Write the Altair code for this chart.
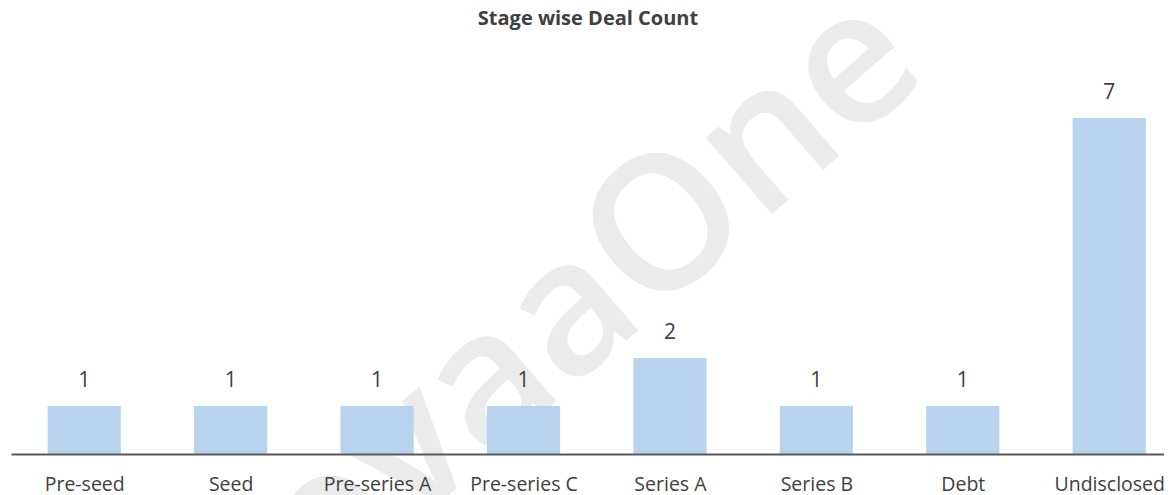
import json
import altair as alt
import pandas as pd

# ---- data ----
stages = ["Pre-seed", "Seed", "Pre-series A", "Pre-series C",
          "Series A", "Series B", "Debt", "Undisclosed"]
counts = [1, 1, 1, 1, 2, 1, 1, 7]
chart_title = ["Stage wise Deal Count"]
watermark = ["ovaaOne"]

df = pd.DataFrame({"stage": stages, "count": counts, "idx": list(range(len(stages)))})

FONT = "Open Sans"
TXT = "#404040"

label_expr = json.dumps(stages) + "[datum.value]"

x_scale = alt.Scale(domain=[-0.5, 7.374], nice=False, zero=False, padding=0)
x_enc = alt.X(
    "x0:Q",
    scale=x_scale,
    axis=alt.Axis(
        title=None, labelAngle=0, ticks=False, tickSize=0,
        values=list(range(len(stages))), labelExpr=label_expr,
        domainColor="#595959", domainWidth=2, zindex=1,
        labelFont=FONT, labelFontSize=19.5, labelColor=TXT,
        labelBaseline="alphabetic", labelPadding=36, labelAlign="center",
        labelOverlap=False, labelFlush=False, grid=False,
    ),
)
y_enc = alt.Y("count:Q", scale=alt.Scale(domain=[0, 9.29], nice=False, zero=True, padding=0), axis=None)

base = alt.Chart(df).transform_calculate(
    x0="datum.idx - 0.25", x1="datum.idx + 0.25"
)

wm = alt.Chart(pd.DataFrame({"t": watermark})).mark_text(
    angle=319, font=FONT, fontSize=187, fontWeight=600, color="#EBEBEB",
    align="center", baseline="middle",
).encode(x=alt.value(580), y=alt.value(289), text="t:N")

bars = base.mark_bar(color="#B8D3EE", orient="vertical").encode(
    x=x_enc, x2="x1:Q", y=y_enc, y2=alt.datum(0)
)

labels = alt.Chart(df).mark_text(
    dy=-19, baseline="alphabetic", font=FONT, fontSize=21, color=TXT
).encode(x=alt.X("idx:Q", scale=x_scale), y=y_enc, text="count:Q")

title = alt.Chart(pd.DataFrame({"t": chart_title})).mark_text(
    font=FONT, fontSize=20, fontWeight="bold", color=TXT,
    align="center", baseline="alphabetic",
).encode(x=alt.value(577), y=alt.value(17), text="t:N")

chart = alt.layer(wm, bars, labels, title).properties(
    width=1153, height=446,
    autosize=alt.AutoSizeParams(type="none"),
    padding={"left": 3, "top": 0, "right": 0, "bottom": 41},
).configure_view(stroke=None)

chart.save("out.html", embed_options={"renderer": "svg", "actions": False})
